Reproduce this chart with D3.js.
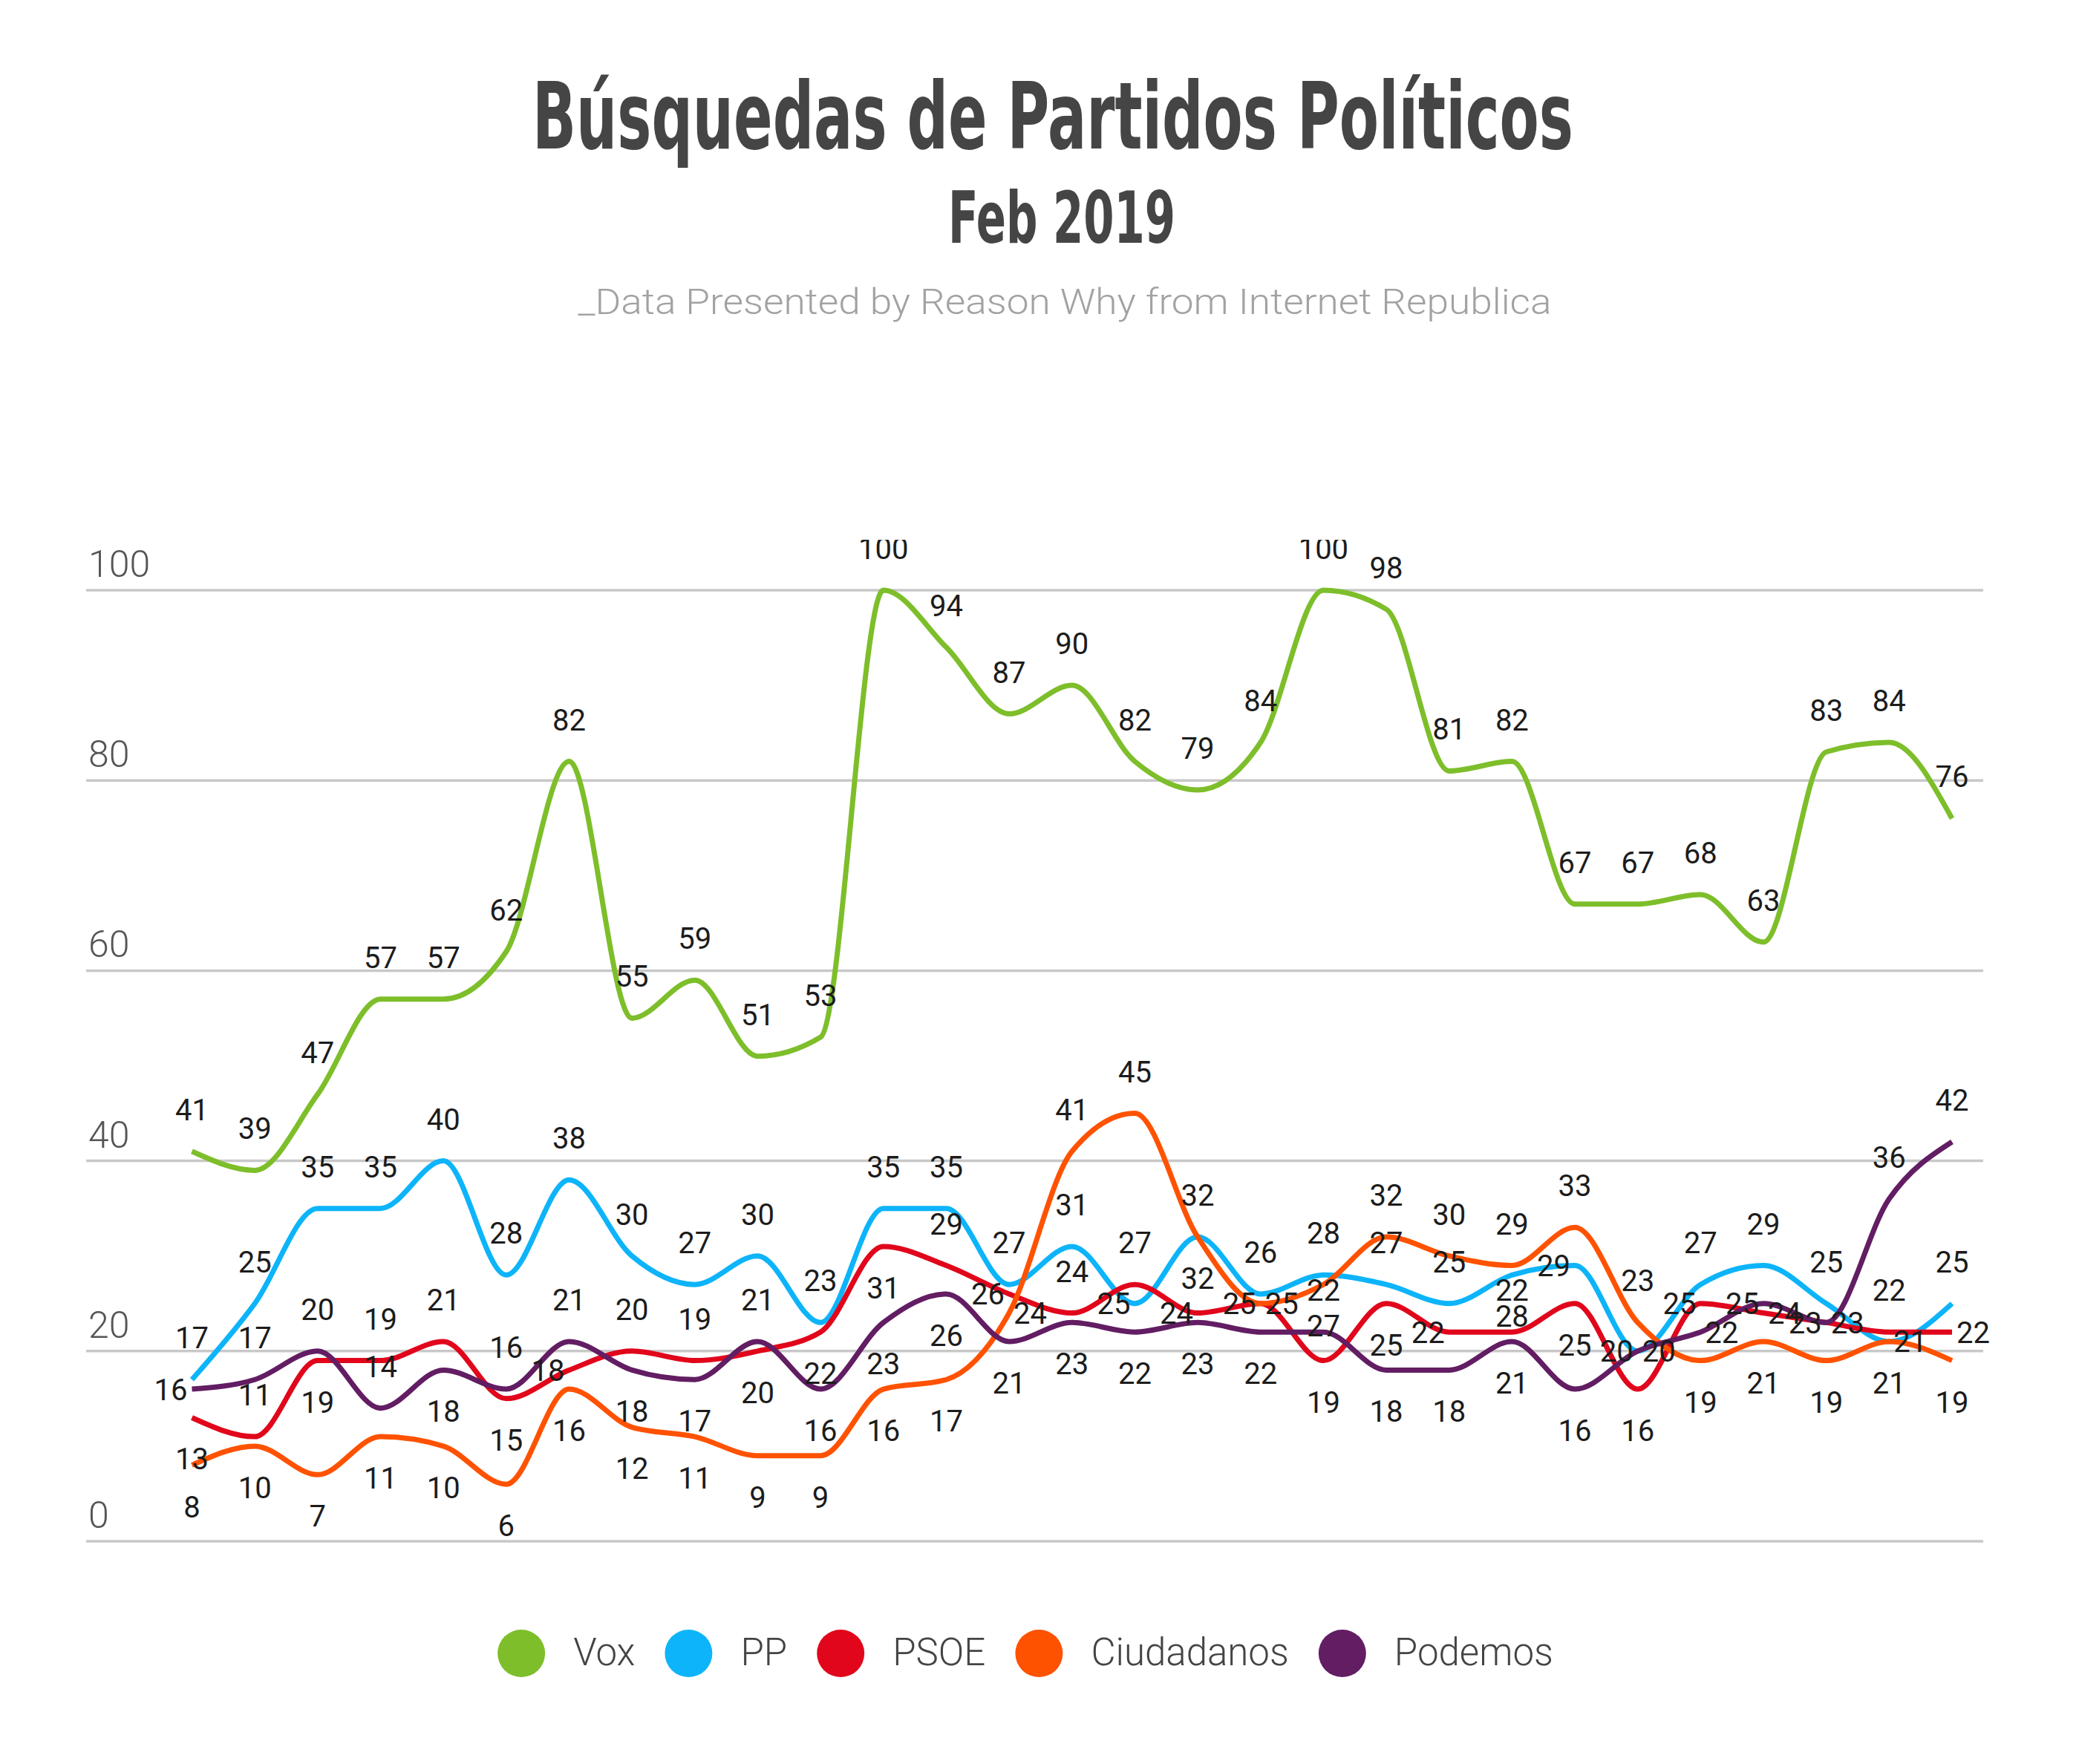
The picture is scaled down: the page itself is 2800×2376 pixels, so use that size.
<!DOCTYPE html>
<html><head><meta charset="utf-8">
<script src="https://cdn.jsdelivr.net/npm/d3@7"></script>
<style>html,body{margin:0;padding:0;background:#fff}</style>
</head><body>
<svg id="chart" width="2800" height="2376" xmlns="http://www.w3.org/2000/svg"></svg>
<script>
// ---------- data ----------
const days = ["1","2","3","4","5","6","7","8","9","10","11","12","13","14","15","16","17","18","19","20","21","22","23","24","25","26","27","28","29"];
const seriesNames = ["Vox","PP","PSOE","Ciudadanos","Podemos"];
const vox        = [41,39,47,57,57,62,82,55,59,51,53,100,94,87,90,82,79,84,100,98,81,82,67,67,68,63,83,84,76];
const pp         = [17,25,35,35,40,28,38,30,27,30,23,35,35,27,31,25,32,26,28,27,25,28,29,20,27,29,25,21,25];
const psoe       = [13,11,19,19,21,15,18,20,19,20,22,31,29,26,24,27,24,25,19,25,22,22,25,16,25,24,23,22,22];
const ciudadanos = [8,10,7,11,10,6,16,12,11,9,9,16,17,24,41,45,32,25,27,32,30,29,33,23,19,21,19,21,19];
const podemos    = [16,17,20,14,18,16,21,18,17,21,16,23,26,21,23,22,23,22,22,18,18,21,16,20,22,25,23,36,42];
const yTicks = [0,20,40,60,80,100];
const seriesColors = ["#7dbe2a","#0db4f9","#e1061b","#ff5200","#621d63"];

const titleText = "Búsquedas de Partidos Políticos";
const subtitleText = "Feb 2019";
const sourceText = "_Data Presented by Reason Why from Internet Republica";

const allValues = [vox, pp, psoe, ciudadanos, podemos];
const series = seriesNames.map((n, k) => ({name: n, color: seriesColors[k], values: allValues[k]}));

// ---------- layout ----------
const svg = d3.select("#chart");
const FONT = "Roboto, 'Open Sans', Lato, sans-serif";
const TITLE_FONT = "'Liberation Sans Narrow', 'DejaVu Sans Condensed', 'Roboto', sans-serif";

const x = d3.scaleLinear().domain([0, days.length - 1]).range([258.5, 2629]);
const y = d3.scaleLinear().domain([0, 100]).range([2076, 795]);
const gridX0 = 116, gridX1 = 2671;

// titles
function fitText(sel, width) {
  sel.attr("textLength", width).attr("lengthAdjust", "spacingAndGlyphs");
}
svg.append("text").attr("x", 1418).attr("y", 200).attr("text-anchor", "middle")
  .attr("font-family", TITLE_FONT).attr("font-weight", 700).attr("font-size", 124)
  .attr("fill", "#454545").text(titleText).call(fitText, 1402);
svg.append("text").attr("x", 1430).attr("y", 327).attr("text-anchor", "middle")
  .attr("font-family", TITLE_FONT).attr("font-weight", 700).attr("font-size", 96)
  .attr("fill", "#454545").text(subtitleText).call(fitText, 306);
svg.append("text").attr("x", 1434).attr("y", 423).attr("text-anchor", "middle")
  .attr("font-family", FONT).attr("font-weight", 300).attr("font-size", 49)
  .attr("fill", "#a2a2a2").text(sourceText).call(fitText, 1311);

// grid + y labels
const grid = svg.append("g");
grid.selectAll("line").data(yTicks).join("line")
  .attr("x1", gridX0).attr("x2", gridX1)
  .attr("y1", d => y(d)).attr("y2", d => y(d))
  .attr("stroke", "#c8c8c8").attr("stroke-width", 3.5);
grid.selectAll("text").data(yTicks).join("text")
  .attr("x", 119).attr("y", d => y(d) - 18)
  .attr("font-family", FONT).attr("font-weight", 300).attr("font-size", 50)
  .attr("fill", "#555").text(d => d);

// lines
const line = d3.line().x((d, i) => x(i)).y(d => y(d)).curve(d3.curveMonotoneX);
svg.append("g").selectAll("path").data(series).join("path")
  .attr("d", d => line(d.values))
  .attr("fill", "none").attr("stroke", d => d.color)
  .attr("stroke-width", 7).attr("stroke-linejoin", "round").attr("stroke-linecap", "butt");

// labels with simple collision-aware placement
const defs = svg.append("defs");
defs.append("clipPath").attr("id", "labelClip").append("rect")
  .attr("x", 0).attr("y", 727).attr("width", 2800).attr("height", 1649);
const labelG = svg.append("g").attr("clip-path", "url(#labelClip)");

const LFS = 40, CAP = 29, ABOVE = 42;
const measurer = svg.append("text").attr("font-family", FONT).attr("font-size", LFS).attr("opacity", 0);
function textW(t) { measurer.text(t); return measurer.node().getComputedTextLength(); }

const placed = [];
const PAD = 8;
function collides(b) {
  return placed.some(p => b.x0 < p.x1 + 2 && b.x1 > p.x0 - 2 && b.y0 < p.y1 + PAD && b.y1 > p.y0 - PAD);
}
function candidate(kind, xi, yi, w) {
  if (kind === "above") return {kind, tx: xi, ty: yi - ABOVE, anchor: "middle", x0: xi - w/2, x1: xi + w/2, y0: yi - ABOVE - CAP, y1: yi - ABOVE};
  if (kind === "below") return {kind, tx: xi, ty: yi + 70, anchor: "middle", x0: xi - w/2, x1: xi + w/2, y0: yi + 41, y1: yi + 70};
  if (kind === "left")  return {kind, tx: xi - 6, ty: yi + 14.5, anchor: "end", x0: xi - 6 - w, x1: xi - 6, y0: yi - 14.5, y1: yi + 14.5};
  return {kind, tx: xi + 6, ty: yi + 14.5, anchor: "start", x0: xi + 6, x1: xi + 6 + w, y0: yi - 14.5, y1: yi + 14.5};
}
const T = 5;
const labels = [];
days.forEach((dname, i) => {
  const order = series.map((s, k) => k).sort((a, b) => series[b].values[i] - series[a].values[i] || a - b);
  order.forEach((k, pos) => {
    const v = series[k].values[i];
    const isTop = pos === 0, isBottom = pos === order.length - 1;
    const gapA = isTop ? Infinity : series[order[pos - 1]].values[i] - v;
    const gapB = isBottom ? Infinity : v - series[order[pos + 1]].values[i];
    const xi = x(i), yi = y(v), w = textW(String(v));
    let vert;
    if (isTop) vert = ["above"];
    else if (isBottom) vert = ["below"];
    else vert = ["above", "below"].filter(kd => (kd === "above" ? gapA : gapB) >= T);
    const prefs = vert.concat(["left", "right"]);
    let chosen = null;
    for (const kd of prefs) {
      const c = candidate(kd, xi, yi, w);
      if (!collides(c)) { chosen = c; break; }
    }
    if (!chosen) chosen = candidate(prefs[0], xi, yi, w);
    placed.push(chosen);
    labels.push({text: String(v), c: chosen});
  });
});
labelG.selectAll("text").data(labels).join("text")
  .attr("x", d => d.c.tx).attr("y", d => d.c.ty).attr("text-anchor", d => d.c.anchor)
  .attr("font-family", FONT).attr("font-size", LFS).attr("fill", "#1c1c1c")
  .text(d => d.text);
measurer.remove();

// legend
const legend = svg.append("g");
const lm = svg.append("text").attr("font-family", FONT).attr("font-weight", 300).attr("font-size", 51);
const widths = series.map(s => { lm.text(s.name); return lm.node().getComputedTextLength(); });
lm.remove();
const R = 32, gapCT = 70, gapTC = 72;
let total = 0;
widths.forEach((w, k) => { total += gapCT + w + (k < widths.length - 1 ? gapTC : 0); });
total += R;
let cx = 1381 - total / 2 + R;
const legY = 2227;
series.forEach((s, k) => {
  legend.append("circle").attr("cx", cx).attr("cy", legY).attr("r", R).attr("fill", s.color);
  legend.append("text").attr("x", cx + gapCT).attr("y", legY + 16)
    .attr("font-family", FONT).attr("font-weight", 300).attr("font-size", 51)
    .attr("fill", "#444").text(s.name);
  cx += gapCT + widths[k] + gapTC;
});
</script>
</body></html>
